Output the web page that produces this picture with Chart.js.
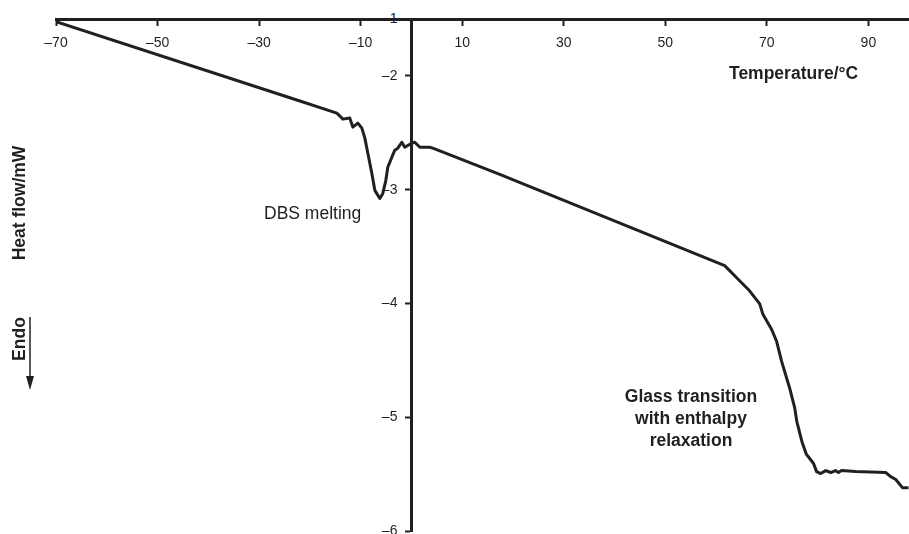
<!DOCTYPE html>
<html>
<head>
<meta charset="utf-8">
<title>DSC heat flow</title>
<script src="https://cdn.jsdelivr.net/npm/chart.js@4.4.1/dist/chart.umd.min.js"></script>
<style>
  html, body { margin: 0; padding: 0; background: #fff; }
  .wrap { position: relative; width: 909px; height: 534px; font-family: 'Liberation Sans', Arial, sans-serif; color: #231f20; }
  .wrap canvas { position: relative; z-index: 2; }
  .note { position: absolute; white-space: nowrap; z-index: 3; }
  .bold { font-weight: bold; font-size: 17.5px; }
  .under { z-index: 1; font-size: 14px; }
  .vert { transform: translate(-50%, -50%) rotate(-90deg); }
</style>
</head>
<body>
<div class="wrap">
  <canvas id="dscChart"></canvas>
  <div class="note under" style="left:382px; top:10px;">&ndash;1</div>
  <div class="note bold" style="left:729px; top:63px;">Temperature/°C</div>
  <div class="note bold vert" style="left:19px; top:203px;">Heat flow/mW</div>
  <div class="note bold vert" style="left:19px; top:339px;">Endo</div>
  <svg class="note" style="left:24px; top:316px;" width="12" height="76">
    <line x1="6" y1="1" x2="6" y2="62" stroke="#231f20" stroke-width="1.5"/>
    <polygon points="2,60 10,60 6,74" fill="#231f20"/>
  </svg>
  <div class="note" style="left:264px; top:203px; font-size:17.5px;">DBS melting</div>
  <div class="note bold" style="left:691px; top:385px; transform:translateX(-50%); text-align:center; line-height:22px;">Glass transition<br>with enthalpy<br>relaxation</div>
</div>

<script>
/* DSC trace, heat flow (mW) against temperature (°C) */

const TEMP = [
  -70, -21.96, -14.69, -14.09, -13.5, -12.13, -11.54, -10.55, -9.76, -9.17,
  -8.58, -7.8, -7.2, -6.22, -5.63, -5.04, -4.65, -3.86, -3.27, -2.68,
  -1.89, -1.3, -0.31, 0.67, 1.65, 3.62, 4.21, 17.4, 61.7, 64.25,
  66.6, 68.6, 69.2, 70.9, 71.9, 72.9, 74.5, 75.5, 75.9, 76.9,
  77.8, 78.6, 79.2, 79.8, 80.6, 81.6, 82.6, 83.5, 84.1, 84.7,
  87.5, 93.4, 94.4, 95.4, 96.7, 97.9,
];

const HEAT_FLOW = [
  -1.523, -2.221, -2.327, -2.353, -2.38, -2.371, -2.45, -2.415, -2.459, -2.547,
  -2.68, -2.856, -3.006, -3.077, -3.033, -2.918, -2.803, -2.715, -2.653, -2.635,
  -2.583, -2.627, -2.6, -2.583, -2.627, -2.627, -2.635, -2.865, -3.668, -3.783,
  -3.889, -4.004, -4.092, -4.224, -4.33, -4.507, -4.745, -4.921, -5.036, -5.213,
  -5.327, -5.372, -5.407, -5.478, -5.495, -5.469, -5.486, -5.469, -5.486, -5.469,
  -5.477, -5.486, -5.522, -5.548, -5.619, -5.619,
];

const X_TICKS = [-70, -50, -30, -10, 10, 30, 50, 70, 90];
const Y_TICKS = [-2, -3, -4, -5, -6];

const INK = '#231f20';
const tickFont = { family: "'Liberation Sans', Arial, sans-serif", size: 14 };
const minus = v => String(v).replace('-', '\u2013');

// ── Chart ──────────────────────────────────────────────────────────────────────
new Chart(document.getElementById('dscChart'), {
  type: 'line',
  data: {
    datasets: [{
      data: TEMP.map((t, i) => ({ x: t, y: HEAT_FLOW[i] })),
      borderColor: INK,
      borderWidth: 3,
      borderJoinStyle: 'round',
      pointRadius: 0,
      tension: 0,
      fill: false,
    }],
  },
  options: {
    responsive: true,
    maintainAspectRatio: false,
    animation: false,
    layout: { padding: { left: 56, right: 0, top: 19, bottom: 3 } },
    plugins: { legend: { display: false }, tooltip: { enabled: false } },
    scales: {
      x: {
        type: 'linear',
        min: -70, max: 98,
        position: { y: -1.5 },
        afterBuildTicks: s => { s.ticks = X_TICKS.map(v => ({ value: v })); },
        grid: { drawOnChartArea: false, tickLength: 5, tickWidth: 2, tickColor: INK },
        border: { display: true, width: 3, color: INK },
        ticks: { color: INK, font: tickFont, padding: 11, maxRotation: 0, callback: v => minus(v) },
      },
      y: {
        type: 'linear',
        min: -6, max: -1.5,
        position: { x: 0 },
        afterBuildTicks: s => { s.ticks = Y_TICKS.map(v => ({ value: v })); },
        // the "-6" label is cut by the page edge in the original, so no room is kept for it
        afterFit: s => { s.paddingTop = 0; s.paddingBottom = 0; },
        grid: { drawOnChartArea: false, tickLength: 5, tickWidth: 2, tickColor: INK },
        border: { display: true, width: 3, color: INK },
        ticks: { color: INK, font: tickFont, callback: v => minus(v) + '\u2003' },
      },
    },
  },
});
</script>
</body>
</html>
